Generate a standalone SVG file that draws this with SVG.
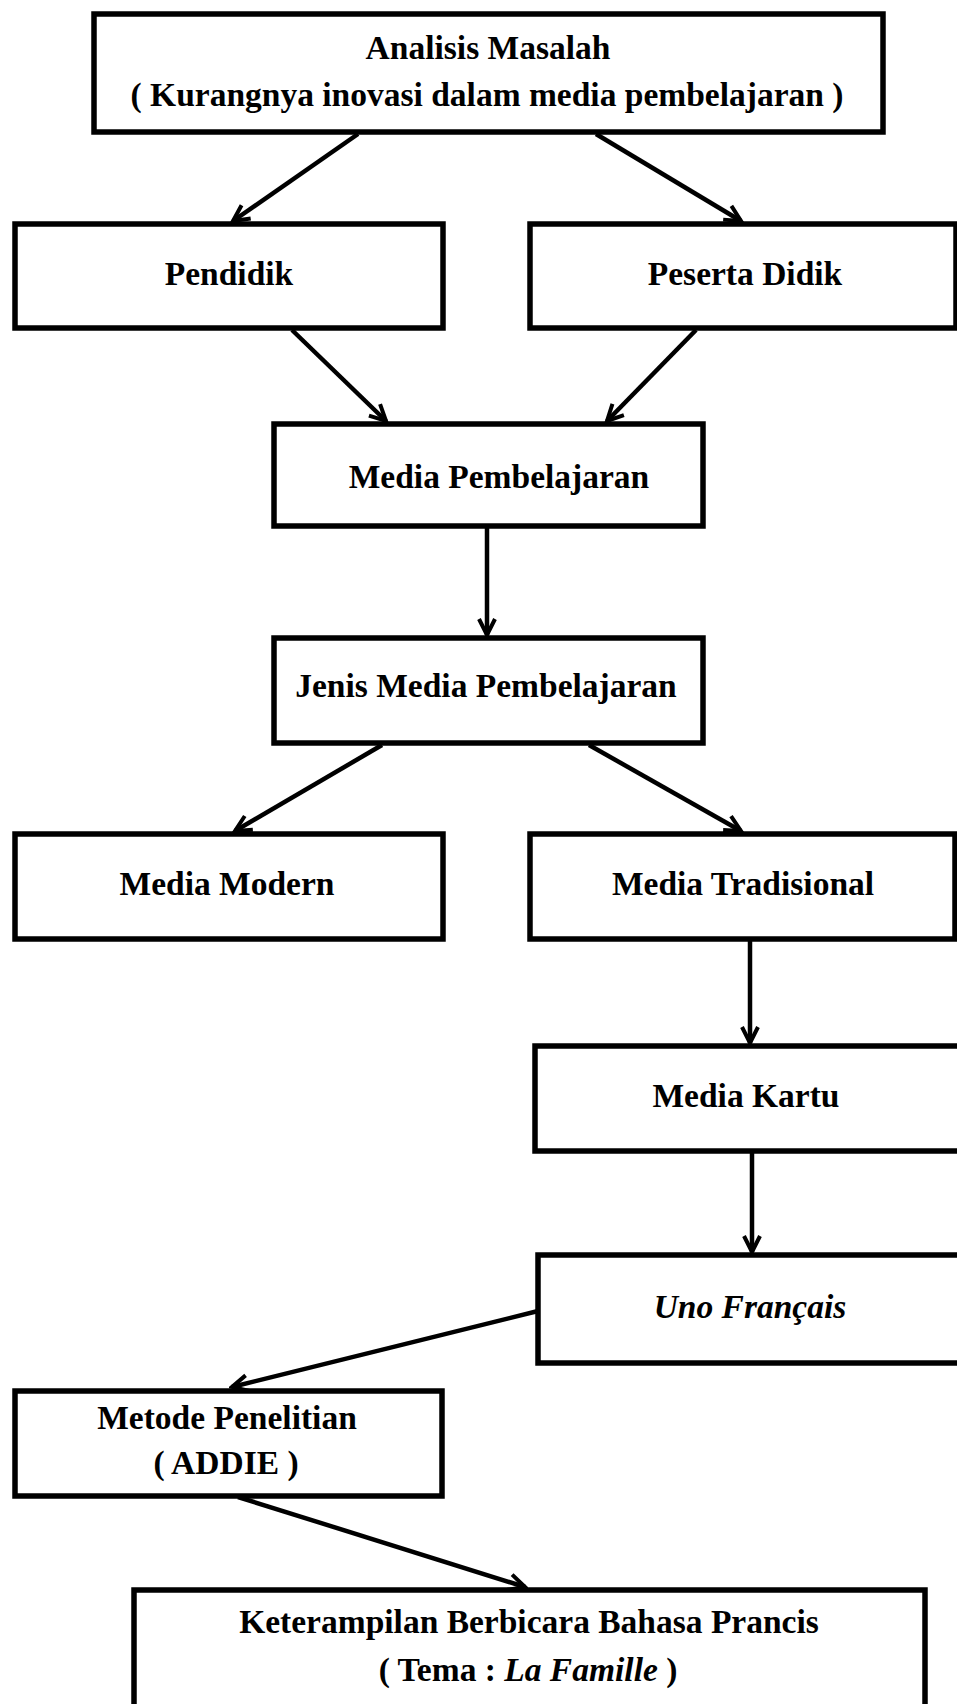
<svg xmlns="http://www.w3.org/2000/svg" width="957" height="1704" viewBox="0 0 957 1704">
<style>
.box{fill:#fff;stroke:#000;stroke-width:5.5}
.t{font-family:"Liberation Serif","Times New Roman",serif;font-weight:bold;font-size:33.5px;fill:#000;text-anchor:middle}
.i{font-style:italic}
.c{stroke:#000;stroke-width:4.5;fill:none}
</style>
<defs>
<marker id="ah" markerUnits="userSpaceOnUse" viewBox="0 0 22 22" markerWidth="22" markerHeight="22" refX="19" refY="11" orient="auto">
<path d="M3,3 L19,11 L3,19" fill="none" stroke="#000" stroke-width="4"/>
</marker>
</defs>
<rect width="957" height="1704" fill="#fff"/>
<g id="connectors">
<line class="c" x1="358" y1="134" x2="233" y2="221" marker-end="url(#ah)"/>
<line class="c" x1="596" y1="134" x2="741" y2="221" marker-end="url(#ah)"/>
<line class="c" x1="292" y1="330" x2="386" y2="421" marker-end="url(#ah)"/>
<line class="c" x1="696" y1="330" x2="607" y2="421" marker-end="url(#ah)"/>
<line class="c" x1="487" y1="528" x2="487" y2="635" marker-end="url(#ah)"/>
<line class="c" x1="382" y1="745" x2="235" y2="831" marker-end="url(#ah)"/>
<line class="c" x1="589" y1="745" x2="741" y2="831" marker-end="url(#ah)"/>
<line class="c" x1="750" y1="941" x2="750" y2="1043" marker-end="url(#ah)"/>
<line class="c" x1="752" y1="1153" x2="752" y2="1252" marker-end="url(#ah)"/>
<line class="c" x1="538" y1="1311" x2="232" y2="1387" marker-end="url(#ah)"/>
<line class="c" x1="238" y1="1497" x2="525" y2="1587" marker-end="url(#ah)"/>
</g>
<g id="n-analisis">
<rect class="box" x="94" y="14" width="789" height="118"/>
<text class="t" x="488" y="59">Analisis Masalah</text>
<text class="t" x="487" y="106">( Kurangnya inovasi dalam media pembelajaran )</text>
</g>
<g id="n-pendidik">
<rect class="box" x="15" y="224" width="428" height="104"/>
<text class="t" x="229" y="285">Pendidik</text>
</g>
<g id="n-peserta">
<rect class="box" x="530" y="224" width="426" height="104"/>
<text class="t" x="745" y="285">Peserta Didik</text>
</g>
<g id="n-media">
<rect class="box" x="274" y="424" width="429" height="102"/>
<text class="t" x="499" y="488">Media Pembelajaran</text>
</g>
<g id="n-jenis">
<rect class="box" x="274" y="638" width="429" height="105"/>
<text class="t" x="486" y="697">Jenis Media Pembelajaran</text>
</g>
<g id="n-modern">
<rect class="box" x="15" y="834" width="428" height="105"/>
<text class="t" x="227" y="895">Media Modern</text>
</g>
<g id="n-tradisional">
<rect class="box" x="530" y="834" width="425" height="105"/>
<text class="t" x="743" y="895">Media Tradisional</text>
</g>
<g id="n-kartu">
<rect class="box" x="535" y="1046" width="430" height="105"/>
<text class="t" x="746" y="1107">Media Kartu</text>
</g>
<g id="n-uno">
<rect class="box" x="538" y="1255" width="430" height="108"/>
<text class="t i" x="750" y="1318">Uno Français</text>
</g>
<g id="n-metode">
<rect class="box" x="15" y="1391" width="427" height="105"/>
<text class="t" x="227" y="1429">Metode Penelitian</text>
<text class="t" x="226" y="1474">( ADDIE )</text>
</g>
<g id="n-keterampilan">
<rect class="box" x="134" y="1590" width="791" height="140"/>
<text class="t" x="529" y="1633">Keterampilan Berbicara Bahasa Prancis</text>
<text class="t" x="528" y="1681">( Tema : <tspan class="i">La Famille</tspan> )</text>
</g>
</svg>
